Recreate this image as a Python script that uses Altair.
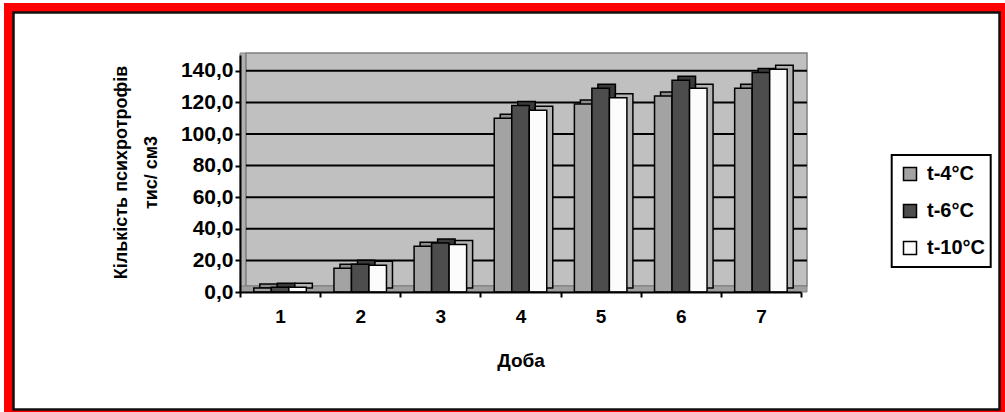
import altair as alt
import pandas as pd

days = [1, 2, 3, 4, 5, 6, 7]
series = ["t-4°C", "t-6°C", "t-10°C"]
t4 = [2.5, 15.0, 29.0, 110.0, 119.0, 124.0, 129.0]
t6 = [3.0, 17.5, 31.0, 118.0, 129.0, 134.0, 139.0]
t10 = [3.0, 17.0, 30.0, 115.0, 123.0, 129.0, 141.0]
front_colors = ["#A3A3A3", "#4D4D4D", "#FCFCFC"]
back_colors = ["#8C8C8C", "#3A3A3A", "#B4B4B4"]
y_ticks = [0, 20, 40, 60, 80, 100, 120, 140]
x_ticks = [0.5, 1, 1.5, 2, 2.5, 3, 3.5, 4, 4.5, 5, 5.5, 6, 6.5, 7, 7.5]

rows = []
for i, (name, vals) in enumerate(zip(series, [t4, t6, t10])):
    for d, v in zip(days, vals):
        rows.append({"day": d, "series": name, "idx": i, "value": v})
df = pd.DataFrame(rows)
grid_df = pd.DataFrame({"value": y_ticks[1:]})
one = pd.DataFrame({"a": [0]})

W, H = 561, 237
BW = 0.2184
FONT = "Liberation Sans"

xscale = alt.Scale(domain=[0.5, 7.5], nice=False, zero=False)
yscale = alt.Scale(domain=[0, 150], nice=False)
cscale = alt.Scale(domain=series, range=front_colors)

x_axis = alt.Axis(
    values=x_ticks,
    title="Доба",
    labelExpr="datum.value % 1 === 0 ? format(datum.value, 'd') : ''",
    labelOverlap=False,
    tickOpacity={"condition": {"test": "datum.value % 1 === 0", "value": 0}, "value": 1},
    grid=False,
    domainColor="black",
    domainWidth=2,
    tickColor="black",
    tickWidth=2,
    tickSize=5,
    labelFont=FONT,
    labelFontSize=19,
    labelFontWeight="bold",
    labelColor="black",
    labelPadding=10,
    titleFont=FONT,
    titleFontSize=19,
    titleFontWeight="bold",
    titleColor="black",
    titlePadding=25,
    zindex=1,
)

y_axis = alt.Axis(
    values=y_ticks,
    labelExpr="replace(format(datum.value, '.1f'), '.', ',')",
    labelOverlap=False,
    grid=False,
    domainColor="black",
    domainWidth=2,
    tickColor="black",
    tickWidth=2,
    tickSize=5,
    labelFont=FONT,
    labelFontSize=21,
    labelFontWeight="bold",
    labelColor="black",
    labelPadding=2,
    title=["Кількість психротрофів", "тис/ см3"],
    titleFont=FONT,
    titleFontSize=18,
    titleFontWeight="bold",
    titleColor="black",
    titleX=-128,
    titleY=117,
    titleAngle=270,
    titleAlign="center",
    titleBaseline="top",
    titleLineHeight=30,
    zindex=1,
)

def deco_rect(x, x2, y, y2, **kw):
    return alt.Chart(one).mark_rect(**kw).encode(
        x=alt.value(x), x2=alt.value(x2), y=alt.value(y), y2=alt.value(y2)
    )

red = deco_rect(-236, 775, -52, 365, fill="#FF0000")
inner = deco_rect(-226.5, 759.5, -42.5, 354.5, fill="white", stroke="#111111", strokeWidth=2.5)
left_wall = deco_rect(0, 6, -2, 237, fill="#B0B0B0", stroke="#808080", strokeWidth=1)
back_wall = deco_rect(6, 567, -2, 231, fill="#C0C0C0", stroke="#808080", strokeWidth=1.5)
floor = deco_rect(0, 567, 231, 237, fill="#A0A0A0", stroke="#808080", strokeWidth=1)
legend_box = deco_rect(651.7, 750.7, 100, 212, fill="white", stroke="black", strokeWidth=2)

grid = alt.Chart(grid_df).mark_rule(color="black", strokeWidth=2).encode(
    y=alt.Y("value:Q", scale=yscale, axis=y_axis), x=alt.value(6), x2=alt.value(567)
)

base = alt.Chart(df).transform_calculate(
    xs=f"datum.day - 1.5*{BW} + datum.idx*{BW}",
    xe=f"datum.day - 1.5*{BW} + (datum.idx+1)*{BW}",
)

back = base.mark_bar(
    xOffset=6, x2Offset=6, yOffset=-4, y2Offset=-4, stroke="black", strokeWidth=1.5
).encode(
    x=alt.X("xs:Q", scale=xscale, axis=x_axis),
    x2="xe:Q",
    y=alt.Y("value:Q", scale=yscale, axis=y_axis),
    y2=alt.datum(0),
    fill=alt.Fill("series:N", scale=alt.Scale(domain=series, range=back_colors), legend=None),
)

front = base.mark_bar(stroke="black", strokeWidth=1.5).encode(
    x=alt.X("xs:Q", scale=xscale, axis=x_axis),
    x2="xe:Q",
    y=alt.Y("value:Q", scale=yscale, axis=y_axis),
    y2=alt.datum(0),
    fill=alt.Fill(
        "series:N",
        scale=cscale,
        legend=alt.Legend(
            title=None,
            orient="none",
            legendX=660,
            legendY=109,
            symbolType="square",
            symbolSize=169,
            symbolStrokeColor="black",
            symbolStrokeWidth=1.5,
            labelFont=FONT,
            labelFontSize=20,
            labelFontWeight="bold",
            labelColor="black",
            labelOffset=7,
            rowPadding=17,
            padding=0,
            zindex=1,
        ),
    ),
)

chart = alt.layer(
    red, inner, left_wall, back_wall, floor, grid, back, front, legend_box
).resolve_scale(fill="independent").properties(
    width=W,
    height=H,
    autosize="none",
    padding={"left": 240, "top": 55, "right": 204, "bottom": 120},
    background="white",
).configure_view(stroke=None)

chart.save("out.html", embed_options={"renderer": "svg", "actions": False})
